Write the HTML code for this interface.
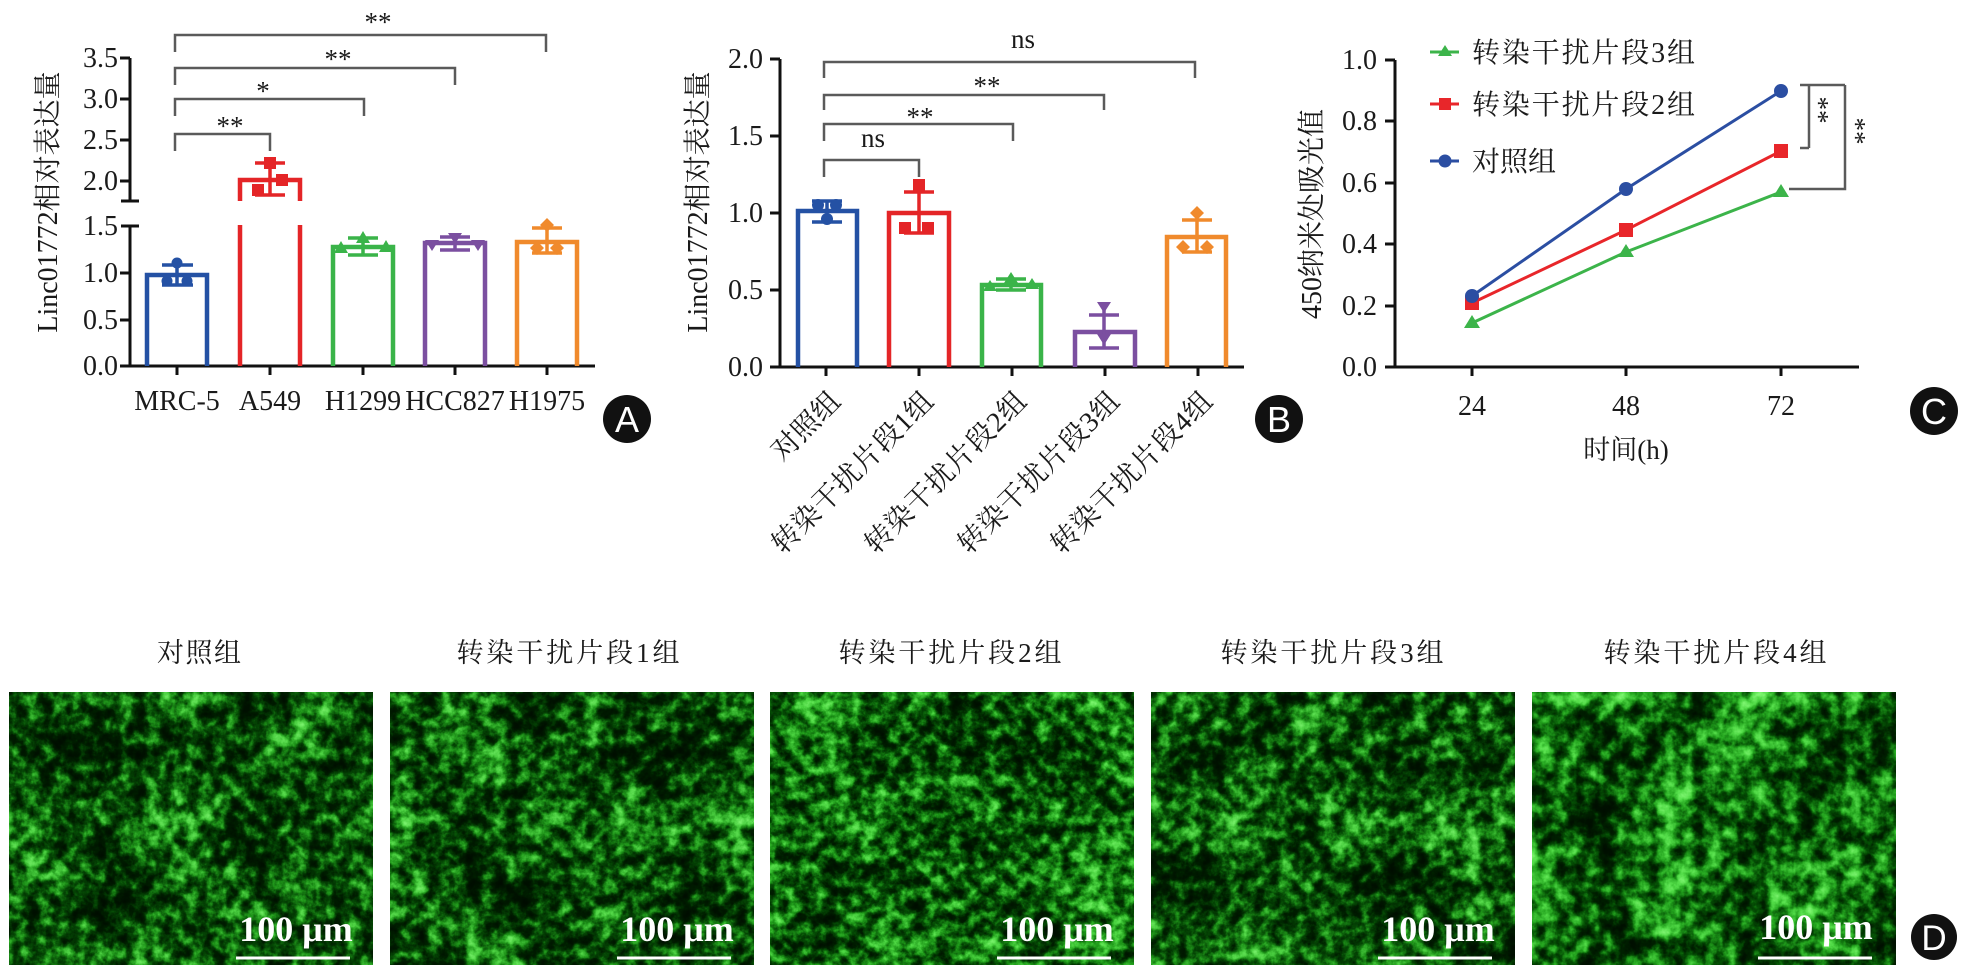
<!DOCTYPE html>
<html><head><meta charset="utf-8"><style>
html,body{margin:0;padding:0;background:#fff;}
svg{display:block;}
text{font-family:"Liberation Serif","Noto Serif CJK SC",serif;fill:#1a1a1a;}
.cj{font-family:"Liberation Serif","Noto Serif CJK SC",serif;}
.ax{stroke:#111;stroke-width:3;fill:none;}
.br{stroke:#5a5a5a;stroke-width:2.5;fill:none;}
.tk{font-size:28px;}
</style></head><body>
<svg width="1962" height="980" viewBox="0 0 1962 980" xmlns="http://www.w3.org/2000/svg">
<defs>
<filter id="m1" x="0" y="0" width="1" height="1" color-interpolation-filters="sRGB">
<feTurbulence type="fractalNoise" baseFrequency="0.075" numOctaves="4" seed="3" result="a0"/>
<feColorMatrix in="a0" type="matrix" values="1 0 0 0 0 1 0 0 0 0 1 0 0 0 0 0 0 0 0 1" result="a"/>
<feTurbulence type="fractalNoise" baseFrequency="0.014" numOctaves="2" seed="9" result="b0"/>
<feColorMatrix in="b0" type="matrix" values="1 0 0 0 0 1 0 0 0 0 1 0 0 0 0 0 0 0 0 1" result="b"/>
<feComposite in="a" in2="b" operator="arithmetic" k1="0" k2="0.75" k3="0.45" k4="-0.1"/>
<feComponentTransfer>
<feFuncR type="table" tableValues="0 0 0 0 0.02 0.12 0.3 0.45 0.55"/>
<feFuncG type="table" tableValues="0.04 0.05 0.07 0.12 0.28 0.58 0.82 0.93 1"/>
<feFuncB type="table" tableValues="0 0 0 0 0.02 0.1 0.26 0.4 0.5"/>
</feComponentTransfer>
</filter>
<filter id="m2" x="0" y="0" width="1" height="1" color-interpolation-filters="sRGB">
<feTurbulence type="fractalNoise" baseFrequency="0.075" numOctaves="4" seed="11" result="a0"/>
<feColorMatrix in="a0" type="matrix" values="1 0 0 0 0 1 0 0 0 0 1 0 0 0 0 0 0 0 0 1" result="a"/>
<feTurbulence type="fractalNoise" baseFrequency="0.014" numOctaves="2" seed="21" result="b0"/>
<feColorMatrix in="b0" type="matrix" values="1 0 0 0 0 1 0 0 0 0 1 0 0 0 0 0 0 0 0 1" result="b"/>
<feComposite in="a" in2="b" operator="arithmetic" k1="0" k2="0.75" k3="0.45" k4="-0.1"/>
<feComponentTransfer>
<feFuncR type="table" tableValues="0 0 0 0 0.02 0.12 0.3 0.45 0.55"/>
<feFuncG type="table" tableValues="0.04 0.05 0.07 0.12 0.28 0.58 0.82 0.93 1"/>
<feFuncB type="table" tableValues="0 0 0 0 0.02 0.1 0.26 0.4 0.5"/>
</feComponentTransfer>
</filter>
<filter id="m3" x="0" y="0" width="1" height="1" color-interpolation-filters="sRGB">
<feTurbulence type="fractalNoise" baseFrequency="0.08" numOctaves="4" seed="27" result="a0"/>
<feColorMatrix in="a0" type="matrix" values="1 0 0 0 0 1 0 0 0 0 1 0 0 0 0 0 0 0 0 1" result="a"/>
<feTurbulence type="fractalNoise" baseFrequency="0.014" numOctaves="2" seed="33" result="b0"/>
<feColorMatrix in="b0" type="matrix" values="1 0 0 0 0 1 0 0 0 0 1 0 0 0 0 0 0 0 0 1" result="b"/>
<feComposite in="a" in2="b" operator="arithmetic" k1="0" k2="0.75" k3="0.45" k4="-0.08"/>
<feComponentTransfer>
<feFuncR type="table" tableValues="0 0 0 0 0.02 0.12 0.3 0.45 0.55"/>
<feFuncG type="table" tableValues="0.04 0.05 0.07 0.12 0.3 0.6 0.84 0.94 1"/>
<feFuncB type="table" tableValues="0 0 0 0 0.02 0.1 0.26 0.4 0.5"/>
</feComponentTransfer>
</filter>
<filter id="m4" x="0" y="0" width="1" height="1" color-interpolation-filters="sRGB">
<feTurbulence type="fractalNoise" baseFrequency="0.075" numOctaves="4" seed="42" result="a0"/>
<feColorMatrix in="a0" type="matrix" values="1 0 0 0 0 1 0 0 0 0 1 0 0 0 0 0 0 0 0 1" result="a"/>
<feTurbulence type="fractalNoise" baseFrequency="0.014" numOctaves="2" seed="47" result="b0"/>
<feColorMatrix in="b0" type="matrix" values="1 0 0 0 0 1 0 0 0 0 1 0 0 0 0 0 0 0 0 1" result="b"/>
<feComposite in="a" in2="b" operator="arithmetic" k1="0" k2="0.75" k3="0.45" k4="-0.1"/>
<feComponentTransfer>
<feFuncR type="table" tableValues="0 0 0 0 0.02 0.12 0.3 0.45 0.55"/>
<feFuncG type="table" tableValues="0.04 0.05 0.07 0.12 0.28 0.58 0.82 0.93 1"/>
<feFuncB type="table" tableValues="0 0 0 0 0.02 0.1 0.26 0.4 0.5"/>
</feComponentTransfer>
</filter>
<filter id="m5" x="0" y="0" width="1" height="1" color-interpolation-filters="sRGB">
<feTurbulence type="fractalNoise" baseFrequency="0.065" numOctaves="4" seed="77" result="a0"/>
<feColorMatrix in="a0" type="matrix" values="1 0 0 0 0 1 0 0 0 0 1 0 0 0 0 0 0 0 0 1" result="a"/>
<feTurbulence type="fractalNoise" baseFrequency="0.014" numOctaves="2" seed="81" result="b0"/>
<feColorMatrix in="b0" type="matrix" values="1 0 0 0 0 1 0 0 0 0 1 0 0 0 0 0 0 0 0 1" result="b"/>
<feComposite in="a" in2="b" operator="arithmetic" k1="0" k2="0.75" k3="0.45" k4="-0.07"/>
<feComponentTransfer>
<feFuncR type="table" tableValues="0 0 0 0 0.02 0.14 0.32 0.47 0.57"/>
<feFuncG type="table" tableValues="0.04 0.05 0.07 0.13 0.32 0.64 0.86 0.95 1"/>
<feFuncB type="table" tableValues="0 0 0 0 0.02 0.12 0.28 0.42 0.52"/>
</feComponentTransfer>
</filter>
</defs>
<rect width="1962" height="980" fill="#fff"/>

<!-- ================= PANEL A ================= -->
<g>
<path class="ax" d="M130,58 V201 M121,201 H139 M130,226 V366 H595 M121,226 H139"/>
<path class="ax" d="M120,58 H130 M120,99 H130 M120,140 H130 M120,181 H130 M120,273 H130 M120,320 H130 M120,366 H130"/>
<path class="ax" d="M177,366 V375 M270,366 V375 M363,366 V375 M455,366 V375 M547,366 V375"/>
<g class="tk" text-anchor="end">
<text x="118" y="67">3.5</text><text x="118" y="108">3.0</text><text x="118" y="149">2.5</text><text x="118" y="190">2.0</text>
<text x="118" y="235">1.5</text><text x="118" y="282">1.0</text><text x="118" y="329">0.5</text><text x="118" y="375">0.0</text>
</g>
<text class="cj" font-size="28" text-anchor="middle" transform="translate(57,202) rotate(-90)">Linc01772相对表达量</text>
<g class="tk" text-anchor="middle">
<text x="177" y="410">MRC-5</text><text x="270" y="410">A549</text><text x="363" y="410">H1299</text><text x="455" y="410">HCC827</text><text x="547" y="410">H1975</text>
</g>
<path d="M147,366 V275 H207 V366" stroke="#2451a4" stroke-width="4.5" fill="none"/>
<path d="M240,201 V180 H300 V201 M240,225 V366 M300,225 V366" stroke="#e42527" stroke-width="4.5" fill="none"/>
<path d="M333,366 V247 H393 V366" stroke="#3ab449" stroke-width="4.5" fill="none"/>
<path d="M425,366 V243 H485 V366" stroke="#7b4fa0" stroke-width="4.5" fill="none"/>
<path d="M517,366 V242 H577 V366" stroke="#f08a2c" stroke-width="4.5" fill="none"/>
<g stroke-width="3.5" fill="none">
<path d="M162,265 H193 M177,265 V285 M162,285 H193" stroke="#2451a4"/>
<path d="M255,163 H285 M270,163 V195 M255,195 H285" stroke="#e42527"/>
<path d="M348,238 H378 M363,238 V255 M348,255 H378" stroke="#3ab449"/>
<path d="M440,237 H470 M455,237 V250 M440,250 H470" stroke="#7b4fa0"/>
<path d="M532,228 H562 M547,228 V253 M532,253 H562" stroke="#f08a2c"/>
</g>
<g fill="#2451a4"><circle cx="177" cy="263" r="5.5"/><circle cx="167" cy="281" r="5.5"/><circle cx="187" cy="281" r="5.5"/></g>
<g fill="#e42527"><rect x="264" y="157" width="12" height="12"/><rect x="276" y="174" width="12" height="12"/><rect x="252" y="184" width="12" height="12"/></g>
<g fill="#3ab449"><path d="M363,231 l7,12 h-14z M341,241 l7,12 h-14z M386,240 l7,12 h-14z"/></g>
<g fill="#7b4fa0"><path d="M448,233 h14 l-7,11z M425,240 h14 l-7,11z M471,240 h14 l-7,11z"/></g>
<g fill="#f08a2c"><path d="M547,218 l7,7 l-7,7 l-7,-7z M537,241 l7,7 l-7,7 l-7,-7z M557,241 l7,7 l-7,7 l-7,-7z"/></g>
<path class="br" d="M175,151 V134 H270 V151 M175,116 V99 H364 V116 M175,85 V68 H455 V85 M175,52 V35 H546 V52"/>
<g font-size="27" text-anchor="middle" fill="#333">
<text x="230" y="135">**</text><text x="263" y="100">*</text><text x="338" y="68">**</text><text x="378" y="31">**</text>
</g>
<circle cx="627" cy="419" r="24" fill="#111"/>
<text x="627" y="432" text-anchor="middle" font-size="36" style="fill:#fff;font-family:'Liberation Sans',sans-serif">A</text>
</g>

<!-- ================= PANEL B ================= -->
<g>
<path class="ax" d="M780,59 V367 H1244"/>
<path class="ax" d="M770,59 H780 M770,136 H780 M770,213 H780 M770,290 H780 M770,367 H780"/>
<path class="ax" d="M826,367 V376 M919,367 V376 M1012,367 V376 M1105,367 V376 M1198,367 V376"/>
<g class="tk" text-anchor="end">
<text x="763" y="68">2.0</text><text x="763" y="145">1.5</text><text x="763" y="222">1.0</text><text x="763" y="299">0.5</text><text x="763" y="376">0.0</text>
</g>
<text class="cj" font-size="28" text-anchor="middle" transform="translate(707,202) rotate(-90)">Linc01772相对表达量</text>
<g class="cj" font-size="28" text-anchor="end">
<text transform="translate(842,403) rotate(-45)" textLength="84">对照组</text>
<text transform="translate(935,403) rotate(-45)" textLength="215">转染干扰片段1组</text>
<text transform="translate(1028,403) rotate(-45)" textLength="215">转染干扰片段2组</text>
<text transform="translate(1121,403) rotate(-45)" textLength="215">转染干扰片段3组</text>
<text transform="translate(1214,403) rotate(-45)" textLength="215">转染干扰片段4组</text>
</g>
<path d="M798,367 V211 H857 V367" stroke="#2451a4" stroke-width="4.5" fill="none"/>
<path d="M889,367 V213 H949 V367" stroke="#e42527" stroke-width="4.5" fill="none"/>
<path d="M982,367 V285 H1041 V367" stroke="#3ab449" stroke-width="4.5" fill="none"/>
<path d="M1075,367 V332 H1135 V367" stroke="#7b4fa0" stroke-width="4.5" fill="none"/>
<path d="M1167,367 V237 H1226 V367" stroke="#f08a2c" stroke-width="4.5" fill="none"/>
<g stroke-width="3.5" fill="none">
<path d="M812,201 H842 M827,201 V222 M812,222 H842" stroke="#2451a4"/>
<path d="M904,192 H934 M919,184 V233 M904,233 H934" stroke="#e42527"/>
<path d="M996,279 H1026 M1011,279 V290 M996,290 H1026" stroke="#3ab449"/>
<path d="M1089,315 H1119 M1104,307 V348 M1089,348 H1119" stroke="#7b4fa0"/>
<path d="M1182,220 H1212 M1197,213 V252 M1182,252 H1212" stroke="#f08a2c"/>
</g>
<g fill="#2451a4"><circle cx="818" cy="205" r="6"/><circle cx="836" cy="205" r="6"/><circle cx="827" cy="219" r="6"/></g>
<g fill="#e42527"><rect x="913" y="179" width="12" height="12"/><rect x="899" y="222" width="12" height="12"/><rect x="922" y="222" width="12" height="12"/></g>
<g fill="#3ab449"><path d="M1011,272 l7,11 h-14z M990,280 l7,11 h-14z M1032,278 l7,11 h-14z"/></g>
<g fill="#7b4fa0"><path d="M1097,302 h14 l-7,11z M1097,334 h14 l-7,11z"/></g>
<g fill="#f08a2c"><path d="M1197,206 l7,7 l-7,7 l-7,-7z M1183,240 l7,7 l-7,7 l-7,-7z M1207,240 l7,7 l-7,7 l-7,-7z"/></g>
<path class="br" d="M824,177 V160 H919 V177 M824,141 V124 H1013 V141 M824,110 V95 H1104 V110 M824,78 V62 H1195 V78"/>
<g font-size="27" text-anchor="middle" fill="#333">
<text x="873" y="147">ns</text><text x="920" y="126">**</text><text x="987" y="95">**</text><text x="1023" y="48">ns</text>
</g>
<circle cx="1279" cy="419" r="24" fill="#111"/>
<text x="1279" y="432" text-anchor="middle" font-size="36" style="fill:#fff;font-family:'Liberation Sans',sans-serif">B</text>
</g>

<!-- ================= PANEL C ================= -->
<g>
<path class="ax" d="M1395,60 V367 H1859"/>
<path class="ax" d="M1385,60 H1395 M1385,121 H1395 M1385,183 H1395 M1385,244 H1395 M1385,306 H1395 M1385,367 H1395"/>
<path class="ax" d="M1472,367 V376 M1626,367 V376 M1781,367 V376"/>
<g class="tk" text-anchor="end">
<text x="1377" y="69">1.0</text><text x="1377" y="130">0.8</text><text x="1377" y="192">0.6</text><text x="1377" y="253">0.4</text><text x="1377" y="315">0.2</text><text x="1377" y="376">0.0</text>
</g>
<g class="tk" text-anchor="middle"><text x="1472" y="415">24</text><text x="1626" y="415">48</text><text x="1781" y="415">72</text></g>
<text class="cj" font-size="27" text-anchor="middle" x="1626" y="459">时间(h)</text>
<text class="cj" font-size="28" text-anchor="middle" transform="translate(1321,214) rotate(-90)">450纳米处吸光值</text>
<polyline points="1472,323 1626,252 1781,192" stroke="#3cb44a" stroke-width="3" fill="none"/>
<polyline points="1472,303 1626,230 1781,151" stroke="#e8262a" stroke-width="3" fill="none"/>
<polyline points="1472,296 1626,189 1781,91" stroke="#2b4ea2" stroke-width="3" fill="none"/>
<g fill="#3cb44a"><path d="M1472,315 l8,13 h-16z M1626,244 l8,13 h-16z M1781,184 l8,13 h-16z"/></g>
<g fill="#e8262a"><rect x="1465" y="296" width="14" height="14"/><rect x="1619" y="223" width="14" height="14"/><rect x="1774" y="144" width="14" height="14"/></g>
<g fill="#2b4ea2"><circle cx="1472" cy="296" r="7"/><circle cx="1626" cy="189" r="7"/><circle cx="1781" cy="91" r="7"/></g>
<path class="br" d="M1800,85 H1845 M1809,85 V148 M1800,148 H1809 M1845,85 V189 H1789"/>
<g font-size="27" text-anchor="middle" fill="#333">
<text transform="translate(1823,110) rotate(90)" y="13">**</text>
<text transform="translate(1860,131) rotate(90)" y="13">**</text>
</g>
<line x1="1430" y1="52" x2="1459" y2="52" stroke="#3cb44a" stroke-width="3"/><path d="M1445,45 l7,11 h-14z" fill="#3cb44a"/>
<line x1="1430" y1="104" x2="1459" y2="104" stroke="#e8262a" stroke-width="3"/><rect x="1439" y="98" width="12" height="12" fill="#e8262a"/>
<line x1="1430" y1="161" x2="1459" y2="161" stroke="#2b4ea2" stroke-width="3"/><circle cx="1445" cy="161" r="6.5" fill="#2b4ea2"/>
<g class="cj" font-size="28">
<text x="1472" y="62" textLength="223">转染干扰片段3组</text>
<text x="1472" y="114" textLength="223">转染干扰片段2组</text>
<text x="1472" y="171" textLength="84">对照组</text>
</g>
<circle cx="1934" cy="411" r="24" fill="#111"/>
<text x="1934" y="424" text-anchor="middle" font-size="36" style="fill:#fff;font-family:'Liberation Sans',sans-serif">C</text>
</g>

<!-- ================= PANEL D ================= -->
<g class="cj" font-size="27" text-anchor="middle">
<text x="199" y="662" textLength="84">对照组</text>
<text x="568" y="662" textLength="223">转染干扰片段1组</text>
<text x="950" y="662" textLength="223">转染干扰片段2组</text>
<text x="1332" y="662" textLength="223">转染干扰片段3组</text>
<text x="1715" y="662" textLength="223">转染干扰片段4组</text>
</g>
<rect x="9" y="692" width="364" height="273" fill="#000" filter="url(#m1)"/>
<rect x="390" y="692" width="364" height="273" fill="#000" filter="url(#m2)"/>
<rect x="770" y="692" width="364" height="273" fill="#000" filter="url(#m3)"/>
<rect x="1151" y="692" width="364" height="273" fill="#000" filter="url(#m4)"/>
<rect x="1532" y="692" width="364" height="273" fill="#000" filter="url(#m5)"/>
<g font-size="36" font-weight="bold" text-anchor="middle">
<text x="296" y="941" style="fill:#fff">100 μm</text>
<text x="677" y="941" style="fill:#fff">100 μm</text>
<text x="1057" y="941" style="fill:#fff">100 μm</text>
<text x="1438" y="941" style="fill:#fff">100 μm</text>
<text x="1816" y="939" style="fill:#fff">100 μm</text>
</g>
<g stroke="#fff" stroke-width="3">
<line x1="236" y1="958" x2="350" y2="958"/>
<line x1="617" y1="958" x2="731" y2="958"/>
<line x1="997" y1="958" x2="1111" y2="958"/>
<line x1="1378" y1="958" x2="1492" y2="958"/>
<line x1="1758" y1="958" x2="1872" y2="958"/>
</g>
<circle cx="1934" cy="937" r="23" fill="#111"/>
<text x="1934" y="950" text-anchor="middle" font-size="35" style="fill:#fff;font-family:'Liberation Sans',sans-serif">D</text>
</svg>
</body></html>
